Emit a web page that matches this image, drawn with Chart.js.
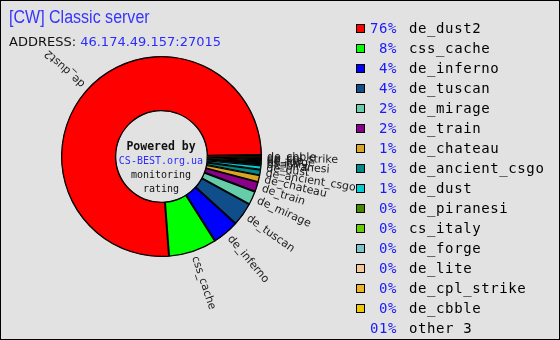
<!DOCTYPE html>
<html>
<head>
<meta charset="utf-8">
<script src="https://cdn.jsdelivr.net/npm/chart.js@4.4.0/dist/chart.umd.min.js"></script>
<style>
  html, body { margin: 0; padding: 0; }
  #box {
    position: relative; width: 560px; height: 340px; box-sizing: border-box;
    border: 1px solid #000; background: #e2e2e2; overflow: hidden;
  }
  #chart { position: absolute; left: 0; top: 0; }
  #title {
    position: absolute; left: 8px; top: 6px; color: #3535ff;
    font: 18px "Liberation Sans", sans-serif;
    transform: scaleX(0.89); transform-origin: left top;
  }
  #addr {
    position: absolute; left: 8px; top: 33px; color: #111;
    font: 13px "DejaVu Sans", sans-serif;
  }
  #addr span { color: #2b2bff; }
  #center {
    position: absolute; left: 110px; top: 138px; width: 100px; text-align: center;
    font: 10px "DejaVu Sans Mono", monospace; line-height: 14px; color: #111;
  }
  #center b { font-size: 11.5px; }
  #center .site { color: #2b2bff; }
  .row {
    position: absolute; left: 355px; height: 20px;
    font: 14px "DejaVu Sans Mono", monospace; letter-spacing: 0.6px; line-height: 20px;
  }
  .sq { position: absolute; left: 0; top: 6px; width: 7px; height: 7px; border: 1px solid #000; }
  .pct { position: absolute; left: 0; width: 41px; text-align: right; color: #1a1aff; }
  .name { position: absolute; left: 53px; color: #000; white-space: nowrap; }
</style>
</head>
<body>
<div id="box">
  <canvas id="chart" width="560" height="340"></canvas>
  <div id="title">[CW] Classic server</div>
  <div id="addr">ADDRESS: <span>46.174.49.157:27015</span></div>
  <div id="center"><b>Powered by</b><br><span class="site">CS-BEST.org.ua</span><br>monitoring<br>rating</div>
  <div id="legend"></div>
</div>
<script>
const maps = ["de_dust2", "css_cache", "de_inferno", "de_tuscan", "de_mirage", "de_train", "de_chateau",
  "de_ancient_csgo", "de_dust", "de_piranesi", "cs_italy", "de_forge", "de_lite", "de_cpl_strike", "de_cbble", "other 3"];
const shares = [76.0, 7.8, 4.3, 3.8, 2.2, 1.6, 1.1, 0.9, 0.7, 0.3, 0.3, 0.2, 0.2, 0.2, 0.2, 0.3];
const pctLabels = ["76%", "8%", "4%", "4%", "2%", "2%", "1%", "1%", "1%", "0%", "0%", "0%", "0%", "0%", "0%", "01%"];
const colors = ["#ff0000", "#00ff00", "#0000ff", "#104e8b", "#66cdaa", "#8b008b", "#daa520", "#008b8b",
  "#00ced1", "#458b00", "#66cd00", "#7ac5cd", "#f4c89a", "#eeb422", "#eec900", "#f0f0f0"];

// legend, same order as the list
const legend = document.getElementById("legend");
maps.forEach((m, i) => {
  const row = document.createElement("div");
  row.className = "row";
  row.style.top = (17 + i * 20) + "px";
  let html = "";
  if (m !== "other 3") html += `<div class="sq" style="background:${colors[i]}"></div>`;
  html += `<span class="pct">${pctLabels[i]}</span><span class="name">${m}</span>`;
  row.innerHTML = html;
  legend.appendChild(row);
});

// the pie runs counter-clockwise from 3 o'clock, so feed it reversed
const pieLabels = maps.slice().reverse();
const pieData = shares.slice().reverse();
const pieColors = colors.slice().reverse();

const sliceLabels = {
  id: "sliceLabels",
  afterDatasetsDraw(chart) {
    const ctx = chart.ctx;
    const arcs = chart.getDatasetMeta(0).data;
    ctx.save();
    ctx.font = "11px 'DejaVu Sans', sans-serif";
    ctx.fillStyle = "#1a1a1a";
    ctx.textAlign = "left";
    ctx.textBaseline = "middle";
    arcs.forEach((arc, i) => {
      if (pieLabels[i] === "other 3") return;
      const mid = (arc.startAngle + arc.endAngle) / 2;
      ctx.save();
      ctx.translate(arc.x, arc.y);
      ctx.rotate(mid);
      ctx.fillText(pieLabels[i], arc.outerRadius + 5, 0);
      ctx.restore();
    });
    ctx.restore();
  }
};

new Chart(document.getElementById("chart"), {
  type: "doughnut",
  data: {
    labels: pieLabels,
    datasets: [{
      data: pieData,
      backgroundColor: pieColors,
      borderColor: "#000",
      borderWidth: 1,
      borderAlign: "inner"
    }]
  },
  options: {
    responsive: false,
    animation: false,
    rotation: 89,
    cutout: "45%",
    layout: { padding: { left: 60, top: 55, right: 299, bottom: 84 } },
    plugins: { legend: { display: false }, tooltip: { enabled: false } }
  },
  plugins: [sliceLabels]
});
</script>
</body>
</html>
